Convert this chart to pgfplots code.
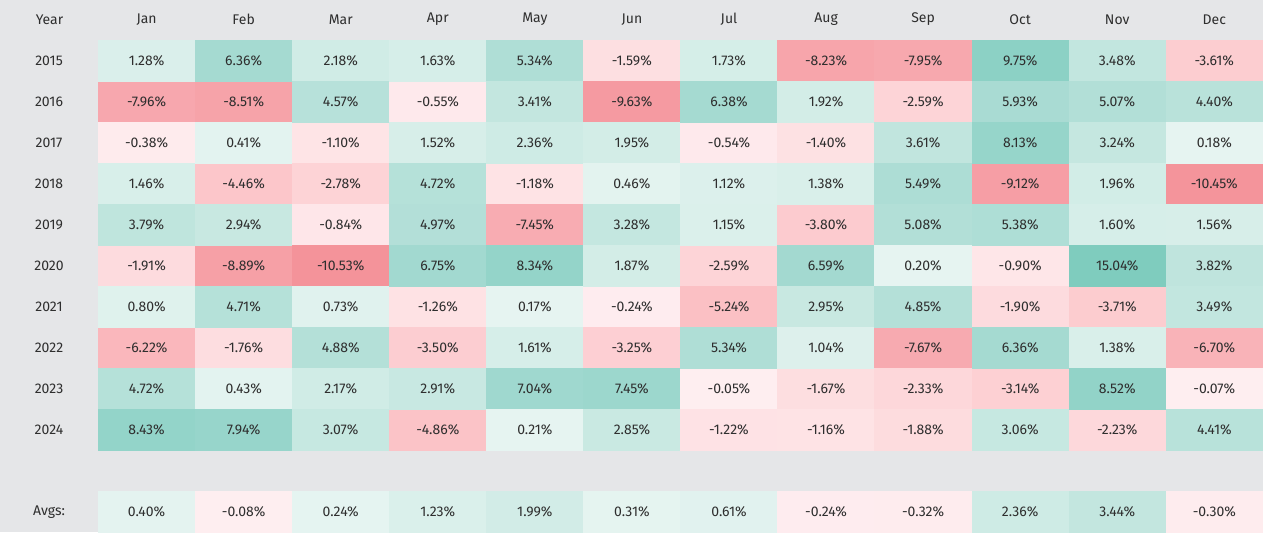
\documentclass[border=0pt]{standalone}
\usepackage{fontspec}
\setmainfont{Fira Sans}
\usepackage{pgfplots}
\usepackage{pgfplotstable}
\pgfplotsset{compat=1.18}
\definecolor{bggray}{HTML}{E5E6E8}
\definecolor{txt}{HTML}{2E2E2E}

% monthly returns, one row per year, last row = averages
\pgfplotstableread{
year Jan Feb Mar Apr May Jun Jul Aug Sep Oct Nov Dec
2015 1.28 6.36 2.18 1.63 5.34 -1.59 1.73 -8.23 -7.95 9.75 3.48 -3.61
2016 -7.96 -8.51 4.57 -0.55 3.41 -9.63 6.38 1.92 -2.59 5.93 5.07 4.40
2017 -0.38 0.41 -1.10 1.52 2.36 1.95 -0.54 -1.40 3.61 8.13 3.24 0.18
2018 1.46 -4.46 -2.78 4.72 -1.18 0.46 1.12 1.38 5.49 -9.12 1.96 -10.45
2019 3.79 2.94 -0.84 4.97 -7.45 3.28 1.15 -3.80 5.08 5.38 1.60 1.56
2020 -1.91 -8.89 -10.53 6.75 8.34 1.87 -2.59 6.59 0.20 -0.90 15.04 3.82
2021 0.80 4.71 0.73 -1.26 0.17 -0.24 -5.24 2.95 4.85 -1.90 -3.71 3.49
2022 -6.22 -1.76 4.88 -3.50 1.61 -3.25 5.34 1.04 -7.67 6.36 1.38 -6.70
2023 4.72 0.43 2.17 2.91 7.04 7.45 -0.05 -1.67 -2.33 -3.14 8.52 -0.07
2024 8.43 7.94 3.07 -4.86 0.21 2.85 -1.22 -1.16 -1.88 3.06 -2.23 4.41
Avgs 0.40 -0.08 0.24 1.23 1.99 0.31 0.61 -0.24 -0.32 2.36 3.44 -0.30
}\returns

% losses scaled by the worst month (-10.53), gains by the best (15.04)
\pgfplotsset{
  colormap={reds}{rgb255=(244,147,154) rgb255=(247,168,174) rgb255=(251,192,196) rgb255=(253,212,215) rgb255=(254,239,241)},
  colormap={greens}{rgb255=(232,245,242) rgb255=(199,232,225) rgb255=(168,219,211) rgb255=(142,210,198) rgb255=(132,206,193) rgb255=(127,204,190)},
  cell/.style={
    scatter, only marks, mark=square*,
    mark size=15.375pt,
    mark options={xscale=2.366, line width=0.2pt},
    scatter/use mapped color={draw=mapped color, fill=mapped color},
    point meta=explicit,
    unbounded coords=discard,
  },
  celltext/.style={
    draw=none, mark=none,
    point meta=explicit,
    nodes near coords={\pgfmathprintnumber[fixed,fixed zerofill,precision=2,assume math mode=true]{\pgfplotspointmeta}\%},
    nodes near coords align={center},
    every node near coord/.append style={font=\fontsize{10.5}{12}\selectfont, text=txt},
  },
}

\begin{document}
\begin{tikzpicture}
\fill[bggray] (-73.5pt,0) rectangle (873pt,399pt);
\begin{axis}[
  scale only axis,
  width=873pt, height=369pt,
  xmin=0.5, xmax=12.5,
  ymin=-0.5, ymax=11.5,
  y dir=reverse,
  clip=false,
  axis line style={draw=none},
  major tick length=0pt,
  xtick={1,...,12},
  xticklabels={Jan,Feb,Mar,Apr,May,Jun,Jul,Aug,Sep,Oct,Nov,Dec},
  xticklabel pos=upper,
  xticklabel style={anchor=center, yshift=15.4pt},
  ytick={0,...,9,11},
  yticklabels={2015,2016,2017,2018,2019,2020,2021,2022,2023,2024,Avgs:},
  yticklabel style={anchor=center, xshift=-36.75pt},
  tick label style={font=\fontsize{10.5}{12}\selectfont, text=txt},
  point meta min=0, point meta max=1,
]
\pgfplotsinvokeforeach{1,...,12}{
  \addplot[cell, colormap name=reds]
    table[x expr={ifthenelse(\thisrowno{#1}<0,#1,nan)},
          y expr={ifthenelse(\coordindex<10,\coordindex,11)},
          meta expr={(\thisrowno{#1}+10.53)/10.53}] {\returns};
  \addplot[cell, colormap name=greens]
    table[x expr={ifthenelse(\thisrowno{#1}<0,nan,#1)},
          y expr={ifthenelse(\coordindex<10,\coordindex,11)},
          meta expr={\thisrowno{#1}/15.04}] {\returns};
  \addplot[celltext]
    table[x expr=#1,
          y expr={ifthenelse(\coordindex<10,\coordindex,11)}, meta index=#1] {\returns};
}
\node[font=\fontsize{10.5}{12}\selectfont, text=txt] at (axis cs:0,-1) {Year};
\end{axis}
\end{tikzpicture}
\end{document}
